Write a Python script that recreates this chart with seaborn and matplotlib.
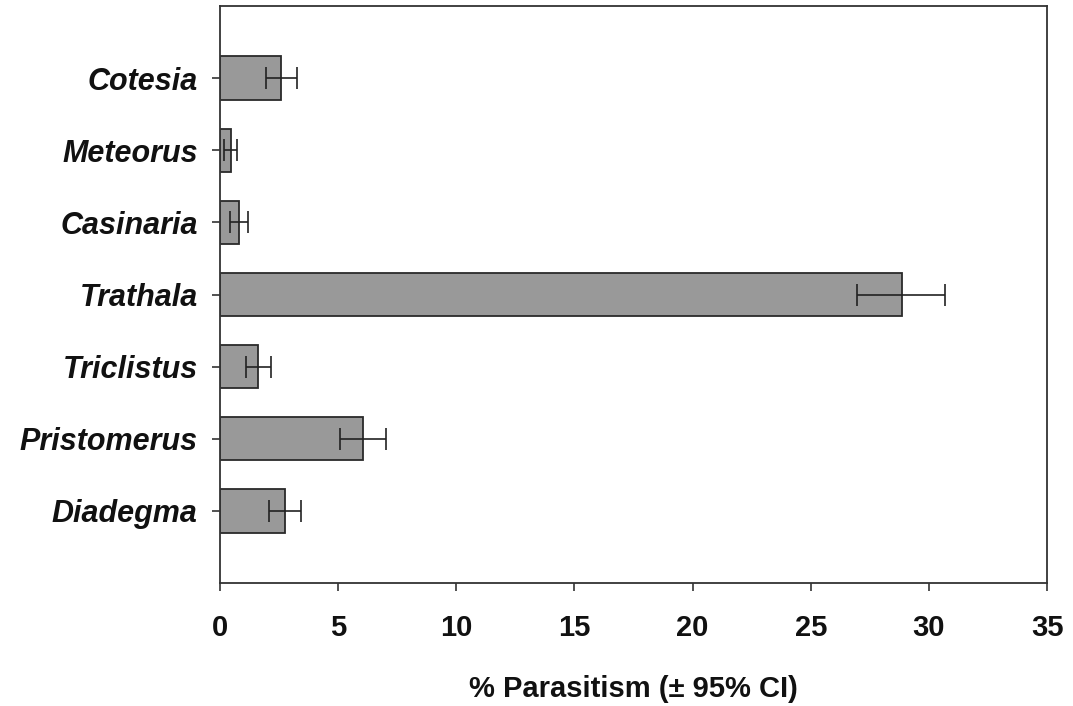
import matplotlib
matplotlib.use("Agg")
import matplotlib.pyplot as plt
import seaborn as sns
import pandas as pd
import numpy as np

genera = ["Cotesia", "Meteorus", "Casinaria", "Trathala", "Triclistus", "Pristomerus", "Diadegma"]
parasitism = [2.6, 0.45, 0.8, 28.85, 1.63, 6.06, 2.76]
ci_low = [1.93, 0.17, 0.42, 26.94, 1.09, 5.08, 2.09]
ci_high = [3.25, 0.73, 1.2, 30.7, 2.15, 7.02, 3.43]
xticks = [0, 5, 10, 15, 20, 25, 30, 35]

sns.set_theme(style="white")
plt.rcParams["font.family"] = ["Liberation Sans", "DejaVu Sans"]
plt.rcParams["text.color"] = "#111111"
plt.rcParams["xtick.color"] = "#111111"
plt.rcParams["ytick.color"] = "#111111"
plt.rcParams["axes.labelcolor"] = "#111111"

df = pd.DataFrame({"genus": genera, "pct": parasitism})

fig = plt.figure(figsize=(10.73, 7.06), dpi=100)
ax = fig.add_axes([0.205, 0.1742, 0.7708, 0.8173])

sns.barplot(data=df, y="genus", x="pct", orient="h", order=genera,
            color="#999999", saturation=1, width=0.6, errorbar=None,
            edgecolor="#2a2a2a", linewidth=1.3, ax=ax)

pos = np.arange(len(genera))
vals = np.array(parasitism)
err = np.vstack([vals - np.array(ci_low), np.array(ci_high) - vals])
ax.errorbar(vals, pos, xerr=err, fmt="none", ecolor="#222222",
            elinewidth=1.2, capsize=8, capthick=1.2)

ax.set_xlim(0, 35)
ax.set_ylim(7, -1)
ax.set_xticks(xticks)
ax.set_xticklabels([str(t) for t in xticks], fontsize=21, fontweight="bold")
ax.set_yticks(pos)
ax.set_yticklabels(genera, fontsize=22, fontweight="bold", fontstyle="italic")
ax.set_ylabel("")
ax.set_xlabel("% Parasitism (\u00b1 95% CI)", fontsize=21, fontweight="bold", labelpad=24)

ax.tick_params(axis="x", direction="out", length=6, width=1.2, color="#333333",
               labelcolor="#111111", pad=16, bottom=True)
ax.tick_params(axis="y", direction="out", length=6, width=1.2, color="#333333",
               labelcolor="#111111", pad=10, left=True)

for s in ax.spines.values():
    s.set_visible(True)
    s.set_color("#333333")
    s.set_linewidth(1.3)

fig.patch.set_facecolor("white")
ax.set_facecolor("white")
fig.savefig("out.png", dpi=100)
